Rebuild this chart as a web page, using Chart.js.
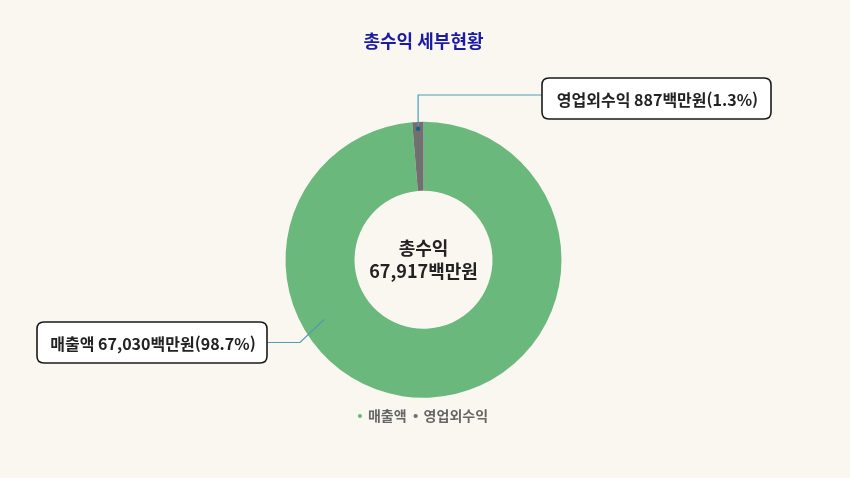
<!DOCTYPE html>
<html lang="ko">
<head>
	<meta charset="utf-8">
	<title>총수익 세부현황</title>
	<style>
body {
	margin: 0;
	background: #faf7f0;
}
#chartWrapper {
	width: 850px;
	height: 478px;
}
	</style>
</head>
<body>

<div id="chartWrapper">
  <canvas id="myChart" width="850" height="478"></canvas>
</div>

<script src="https://cdn.jsdelivr.net/npm/chart.js"></script>
<script>
const categories = ['매출액', '영업외수익'];
const amounts = [67030, 887];
const colors = ['#6bb87d', '#707070'];
const unit = '백만원';
const titleText = '총수익 세부현황';
const centerLabel = '총수익';

const FONT = '"Noto Sans CJK KR", "Noto Sans", sans-serif';
const total = amounts.reduce((a, b) => a + b, 0);

function fmt(n) {
	return n.toLocaleString('en-US');
}

// callout boxes: where the label box sits and how the leader bends
const callouts = [
	{ box: { x: 37, y: 322, w: 230, h: 41 }, angle: 149, depth: 0.68, elbowX: 300 },
	{ box: { x: 542, y: 78, w: 229, h: 41 }, angle: null, depth: 0.9, elbowY: 95 }
];

function roundRect(ctx, x, y, w, h, r) {
	ctx.beginPath();
	ctx.moveTo(x + r, y);
	ctx.lineTo(x + w - r, y);
	ctx.quadraticCurveTo(x + w, y, x + w, y + r);
	ctx.lineTo(x + w, y + h - r);
	ctx.quadraticCurveTo(x + w, y + h, x + w - r, y + h);
	ctx.lineTo(x + r, y + h);
	ctx.quadraticCurveTo(x, y + h, x, y + h - r);
	ctx.lineTo(x, y + r);
	ctx.quadraticCurveTo(x, y, x + r, y);
	ctx.closePath();
}

const labelsPlugin = {
	id: 'labels',
	afterDraw(chart) {
		const ctx = chart.ctx;
		const meta = chart.getDatasetMeta(0);
		ctx.save();

		// centre text
		const c = meta.data[0];
		ctx.fillStyle = '#222';
		ctx.textAlign = 'center';
		ctx.textBaseline = 'middle';
		ctx.font = 'bold 18px ' + FONT;
		ctx.fillText(centerLabel, c.x, c.y - 12);
		ctx.fillText(fmt(total) + unit, c.x, c.y + 11);

		meta.data.forEach((arc, i) => {
			const co = callouts[i];
			const p = arc.getProps(['x', 'y', 'startAngle', 'endAngle', 'innerRadius', 'outerRadius'], true);
			const ang = co.angle === null ? (p.startAngle + p.endAngle) / 2 : co.angle * Math.PI / 180;
			const r = p.innerRadius + (p.outerRadius - p.innerRadius) * co.depth;
			const ax = p.x + Math.cos(ang) * r;
			const ay = p.y + Math.sin(ang) * r;
			const b = co.box;

			ctx.strokeStyle = '#4f9bb3';
			ctx.lineWidth = 1.2;
			ctx.beginPath();
			ctx.moveTo(ax, ay);
			if (co.elbowY !== undefined) {
				ctx.lineTo(ax, co.elbowY);
				ctx.lineTo(b.x, co.elbowY);
			} else {
				const my = b.y + b.h / 2;
				ctx.lineTo(co.elbowX, my);
				ctx.lineTo(b.x + b.w, my);
			}
			ctx.stroke();

			if (co.elbowY !== undefined) {
				ctx.fillStyle = '#1b5e86';
				ctx.beginPath();
				ctx.arc(ax, ay, 2.2, 0, Math.PI * 2);
				ctx.fill();
			}

			roundRect(ctx, b.x, b.y, b.w, b.h, 7);
			ctx.fillStyle = '#ffffff';
			ctx.fill();
			ctx.strokeStyle = '#1a1a1a';
			ctx.lineWidth = 1.6;
			ctx.stroke();

			const pct = (amounts[i] / total * 100).toFixed(1);
			ctx.fillStyle = '#222';
			ctx.font = 'bold 16px ' + FONT;
			ctx.textAlign = 'center';
			ctx.textBaseline = 'middle';
			ctx.fillText(categories[i] + ' ' + fmt(amounts[i]) + unit + '(' + pct + '%)', b.x + b.w / 2 + 1, b.y + b.h / 2 + 1);
		});
		ctx.restore();
	}
};

const chartCtx = document.getElementById('myChart');

new Chart(chartCtx, {
	type: 'doughnut',
	data: {
		labels: categories,
		datasets: [{
			data: amounts,
			backgroundColor: colors,
			borderWidth: 0
		}]
	},
	options: {
		responsive: false,
		animation: false,
		radius: 138,
		cutout: '50%',
		layout: {
			padding: { left: 0, right: 3, top: 0, bottom: 45 }
		},
		plugins: {
			title: {
				display: true,
				text: titleText,
				color: '#1c1ca3',
				font: { family: FONT, size: 18, weight: 'bold' },
				padding: { top: 30, bottom: 67 }
			},
			legend: {
				position: 'bottom',
				labels: {
					usePointStyle: true,
					pointStyle: 'circle',
					boxWidth: 2,
					boxHeight: 3,
					padding: 8,
					color: '#666',
					font: { family: FONT, size: 14, weight: 'bold' }
				}
			},
			tooltip: { enabled: false }
		}
	},
	plugins: [labelsPlugin]
});
</script>
</body>
</html>
